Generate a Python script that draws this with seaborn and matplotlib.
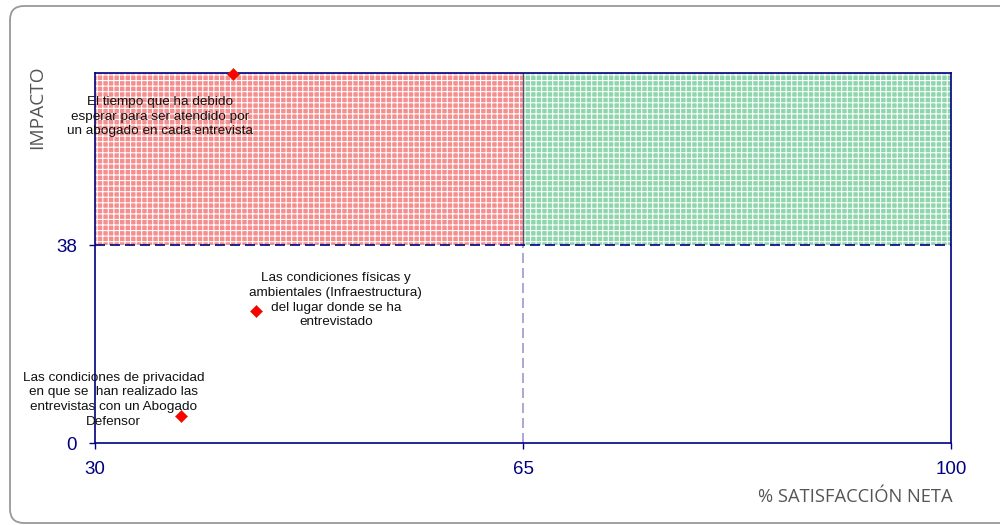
import numpy as np
import pandas as pd
import matplotlib
matplotlib.use('Agg')
import matplotlib.pyplot as plt
import seaborn as sns
from matplotlib.patches import FancyBboxPatch

# data
satisfaccion = [41.3, 43.2, 37.0]
impacto = [70.8, 25.3, 5.2]
etiquetas = [
    'El tiempo que ha debido\nesperar para ser atendido por\nun abogado en cada entrevista',
    'Las condiciones físicas y\nambientales (Infraestructura)\ndel lugar donde se ha\nentrevistado',
    'Las condiciones de privacidad\nen que se  han realizado las\nentrevistas con un Abogado\nDefensor',
]
etiqueta_x = [35.3, 49.7, 31.5]
etiqueta_y = [62.6, 27.4, 8.3]
x_ticks = [30, 65, 100]
y_ticks = [0, 38]
x_corte = 65
y_corte = 38
y_max = 71

df = pd.DataFrame({'satisfaccion': satisfaccion, 'impacto': impacto})

sns.set_style('white')
plt.rcParams['font.family'] = ['Liberation Sans', 'DejaVu Sans']
plt.rcParams['hatch.linewidth'] = 0.8

navy = '#000080'

fig = plt.figure(figsize=(10, 5.25), dpi=100)
ax = fig.add_axes([0.095, 0.156, 0.856, 0.705])

# outer rounded frame (pixel coordinates)
frame = FancyBboxPatch((10, 2), 1010, 517, boxstyle='round,pad=0,rounding_size=14',
                       transform=None, fill=False, edgecolor='#999999', lw=1.3, clip_on=False)
fig.patches.append(frame)

# quadrants
ax.fill_between([x_ticks[0], x_corte], y_corte, y_max, facecolor='#f58e8e', edgecolor='#ffffff',
                hatch='+++', lw=0, zorder=1)
ax.fill_between([x_corte, x_ticks[-1]], y_corte, y_max, facecolor='#8ed6ac', edgecolor='#ffffff',
                hatch='+++', lw=0, zorder=1)
ax.plot([x_corte, x_corte], [y_corte, y_max], color='#555577', lw=1, zorder=2)
ax.axhline(y_corte, color=navy, lw=1.2, ls=(0, (6, 3)), zorder=3)
ax.plot([x_corte, x_corte], [0, y_corte], color='#9999cc', lw=1.2, ls=(0, (6, 3)), zorder=2)

sns.scatterplot(data=df, x='satisfaccion', y='impacto', marker='D', color='#ff0000',
                s=38, edgecolor='#cc3300', linewidth=0.4, ax=ax, zorder=5, clip_on=False)

for tx, ty, t in zip(etiqueta_x, etiqueta_y, etiquetas):
    ax.text(tx, ty, t, ha='center', va='center', fontsize=9.7, color='#111111',
            linespacing=1.3, zorder=6)

ax.set_xlim(x_ticks[0], x_ticks[-1])
ax.set_ylim(0, y_max)
ax.set_xticks(x_ticks)
ax.set_yticks(y_ticks)
ax.tick_params(axis='both', colors=navy, labelcolor=navy, labelsize=13.5, length=4, width=1,
               direction='out', left=True, bottom=True)
ax.tick_params(axis='x', pad=9)
ax.tick_params(axis='y', pad=9)
for s in ax.spines.values():
    s.set_color(navy)
    s.set_linewidth(1.2)
ax.set_xlabel('')
ax.set_ylabel('')

fig.text(0.855, 0.053, '% SATISFACCIÓN NETA', ha='center', va='center', fontsize=13.2,
         color='#555555', family=['Open Sans', 'DejaVu Sans'])
fig.text(0.037, 0.796, 'IMPACTO', ha='center', va='center', rotation=90, fontsize=13.8,
         color='#555555', family=['Open Sans', 'DejaVu Sans'])

fig.savefig('out.png', dpi=100)
